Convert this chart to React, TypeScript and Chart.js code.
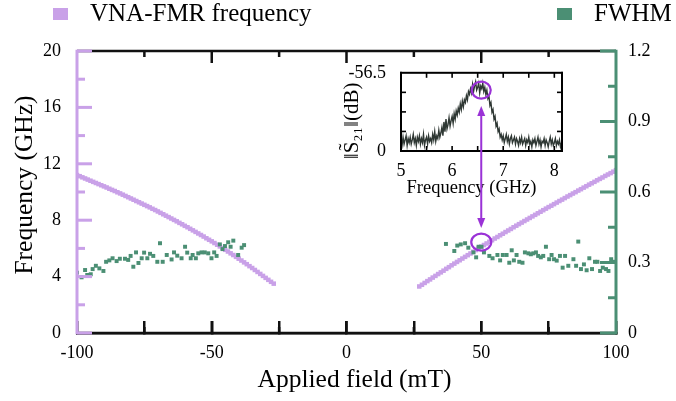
import React, { useEffect, useRef } from "react";
import { Chart, registerables } from "chart.js";

Chart.register(...registerables);

const FONT = "'Liberation Serif', 'DejaVu Serif', 'Times New Roman', serif";
const PURPLE = "#c9a1e8";
const GREEN = "#4b8f74";
const MARK = "#9a32d6";
const TRACE = "#2f3834";
const BLACK = "#111111";

// ---- main chart data ----
const fieldStep = 1; // mT
const freqNegStart = -100;
const freqNegGHz = [
  11.2, 11.12, 11.04, 10.96, 10.88, 10.8, 10.72, 10.64, 10.56, 10.48,
  10.4, 10.32, 10.23, 10.15, 10.07, 9.98, 9.9, 9.81, 9.72, 9.63,
  9.54, 9.45, 9.36, 9.27, 9.18, 9.09, 9.0, 8.91, 8.81, 8.72,
  8.62, 8.52, 8.42, 8.32, 8.22, 8.12, 8.02, 7.92, 7.81, 7.71,
  7.6, 7.5, 7.39, 7.28, 7.17, 7.06, 6.95, 6.84, 6.72, 6.61,
  6.5, 6.38, 6.26, 6.14, 6.02, 5.9, 5.78, 5.65, 5.53, 5.4,
  5.27, 5.14, 5.01, 4.88, 4.74, 4.61, 4.47, 4.33, 4.19, 4.05,
  3.91, 3.77, 3.63, 3.5,
];
const freqPosStart = 27;
const freqPosGHz = [
  3.3, 3.42, 3.55, 3.68, 3.8, 3.93, 4.05, 4.18, 4.3, 4.42,
  4.55, 4.67, 4.8, 4.92, 5.04, 5.16, 5.28, 5.4, 5.52, 5.64,
  5.76, 5.88, 6.0, 6.12, 6.24, 6.35, 6.47, 6.58, 6.7, 6.81,
  6.93, 7.04, 7.16, 7.27, 7.38, 7.5, 7.61, 7.72, 7.83, 7.94,
  8.05, 8.16, 8.27, 8.38, 8.49, 8.6, 8.71, 8.82, 8.93, 9.03,
  9.14, 9.25, 9.36, 9.46, 9.57, 9.68, 9.78, 9.89, 9.99, 10.1,
  10.2, 10.31, 10.41, 10.52, 10.62, 10.72, 10.83, 10.93, 11.03, 11.14,
  11.24, 11.34, 11.44, 11.55,
];

const fwhmNegField = [
  -100, -98.3, -97, -96.2, -94.9, -94.2, -93, -91.7, -90.2, -89.2,
  -88, -86.8, -85.3, -84.1, -82.2, -81, -80.1, -79.1, -78.1, -77.2,
  -76, -75.1, -73.9, -72.9, -71.7, -70.2, -69.2, -68.2, -66.7, -64.9,
  -64, -62.8, -61.2, -59.9, -59.1, -57.8, -57.1, -55.9, -55, -53.8,
  -52.6, -51.3, -50.1, -49.1, -48.2, -47, -46, -45.1, -43.9, -43,
  -42, -40.2, -38.9, -38,
];
const fwhmNegVal = [
  0.257, 0.237, 0.268, 0.247, 0.25, 0.272, 0.286, 0.275, 0.264, 0.303,
  0.309, 0.318, 0.306, 0.316, 0.316, 0.311, 0.328, 0.282, 0.343, 0.298,
  0.318, 0.342, 0.318, 0.337, 0.328, 0.303, 0.382, 0.303, 0.332, 0.313,
  0.343, 0.329, 0.318, 0.367, 0.342, 0.318, 0.332, 0.318, 0.339, 0.343,
  0.343, 0.339, 0.318, 0.343, 0.328, 0.377, 0.357, 0.37, 0.386, 0.367,
  0.393, 0.332, 0.363, 0.374,
];
const fwhmPosField = [
  36.9, 40, 41.1, 42.4, 44, 45.2, 47.1, 48.1, 49, 50.1,
  51, 53, 54.2, 56, 57, 58, 59.4, 60.4, 61.3, 62.1,
  63.1, 64.1, 65.3, 66.2, 67.5, 68.4, 69.3, 70.3, 71.1, 72.1,
  73, 74, 75.2, 76.1, 77, 78, 79.2, 80.2, 81.1, 82.3,
  84.2, 85.2, 86, 87, 88.1, 89.1, 90.1, 91.1, 92.2, 93.1,
  94.1, 95.1, 96.3, 97.2, 98.2, 99.3,
];
const fwhmPosVal = [
  0.379, 0.349, 0.372, 0.377, 0.382, 0.363, 0.343, 0.322, 0.367, 0.367,
  0.343, 0.328, 0.318, 0.332, 0.309, 0.332, 0.332, 0.299, 0.352, 0.309,
  0.332, 0.303, 0.299, 0.343, 0.339, 0.335, 0.339, 0.343, 0.328, 0.322,
  0.328, 0.367, 0.314, 0.332, 0.314, 0.308, 0.328, 0.278, 0.328, 0.286,
  0.314, 0.286, 0.389, 0.272, 0.292, 0.267, 0.318, 0.272, 0.303, 0.303,
  0.264, 0.278, 0.272, 0.264, 0.314, 0.303,
];

// x ticks every 25 mT; labels only on the 50 mT majors
const xTicks = [-100, -75, -50, -25, 0, 25, 50, 75, 100];
const xTickLabels = ["-100", "", "-50", "", "0", "", "50", "", "100"];
const xMajorStep = 50;
const yTicks = [0, 4, 8, 12, 16, 20];
const yTickLabels = ["0", "4", "8", "12", "16", "20"];
const y1Ticks = [0, 0.3, 0.6, 0.9, 1.2];
const y1TickLabels = ["0", "0.3", "0.6", "0.9", "1.2"];

// annotation (circle + arrow) positions, data units
const markField = 50;
const markFreq = 6.45;
const arrowBottomFreq = 7.45;

// ---- inset data ----
const insetStart = 5.0;
const insetStep = 0.02; // GHz
const insetMag = [
  7, 4, 10, 5, 8, 11, 4, 9, 6, 10,
  5, 8, 12, 6, 9, 4, 10, 7, 11, 5,
  9, 6, 12, 4, 8, 10, 5, 11, 7, 9,
  6, 12, 8, 14, 7, 11, 9, 15, 10, 13,
  17, 11, 21, 14, 23, 16, 19, 24, 18, 22,
  25, 20, 27, 23, 29, 26, 31, 28, 34, 30,
  36, 32, 37, 35, 40, 37, 43, 41, 45, 42,
  48, 43, 47, 50, 44, 46, 49, 42, 47, 45,
  49, 43, 46, 41, 44, 38, 40, 33, 35, 28,
  30, 23, 25, 18, 20, 14, 16, 10, 12, 8,
  11, 6, 9, 12, 7, 10, 5, 9, 11, 6,
  8, 10, 5, 9, 7, 4, 9, 6, 10, 5,
  7, 9, 4, 8, 6, 10, 5, 7, 3, 8,
  6, 9, 4, 7, 10, 5, 8, 3, 7, 6,
  9, 4, 8, 6, 3, 7, 10, 5, 8, 4,
  6, 9, 4, 7, 5, 8, 3, 6,
];
const insetXTicks = [5, 6, 7, 8];
const insetXTickLabels = ["5", "6", "7", "8"];
const insetXMarks = [5, 5.5, 6, 6.5, 7, 7.5, 8];
const insetYTicks = [0, 56.5];
const insetYTickLabels = ["0", "-56.5"];
const insetYMarks = [14.125, 28.25, 42.375];
const insetMarkFreq = 6.57;
const insetMarkMag = 44;
const insetArrowTopMag = 32.5;

const W = 676;
const H = 401;
const PLOT_TOP = 51;
const X_AXIS_H = 68;
const INSET_LEFT = 330;
const INSET_TOP = 55;
const INSET_W = 250;
const INSET_H = 190;

function vline(ctx: CanvasRenderingContext2D, x: number, y1: number, y2: number, w: number) {
  ctx.fillRect(x - w / 2, Math.min(y1, y2), w, Math.abs(y2 - y1));
}
function hline(ctx: CanvasRenderingContext2D, y: number, x1: number, x2: number, w: number) {
  ctx.fillRect(Math.min(x1, x2), y - w / 2, Math.abs(x2 - x1), w);
}

export default function App() {
  const mainRef = useRef<HTMLCanvasElement>(null);
  const insetRef = useRef<HTMLCanvasElement>(null);

  useEffect(() => {
    const purplePts = freqNegGHz
      .map((v, i) => ({ x: freqNegStart + i * fieldStep, y: v }))
      .concat(freqPosGHz.map((v, i) => ({ x: freqPosStart + i * fieldStep, y: v })));
    const greenPts = fwhmNegField
      .map((f, i) => ({ x: f, y: fwhmNegVal[i] }))
      .concat(fwhmPosField.map((f, i) => ({ x: f, y: fwhmPosVal[i] })));

    // frame lines and inward x ticks as line segments in data space of the y axis
    const yMin = yTicks[0];
    const yMax = yTicks[yTicks.length - 1];
    const plotH = H - X_AXIS_H - PLOT_TOP;
    const perPx = (yMax - yMin) / plotH;
    const seg = (pts: { x: number; y: number }[], w: number) => ({
      type: "line",
      data: pts,
      yAxisID: "y",
      showLine: true,
      pointRadius: 0,
      borderColor: BLACK,
      backgroundColor: BLACK,
      borderWidth: w,
      borderCapStyle: "butt",
      fill: false,
      clip: false,
      order: 9,
    });
    const frameSets: any[] = [
      seg([{ x: xTicks[0], y: yMax }, { x: xTicks[xTicks.length - 1], y: yMax }], 2.5),
      seg([{ x: xTicks[0], y: yMin }, { x: xTicks[xTicks.length - 1], y: yMin }], 2.5),
    ];
    xTicks.slice(1, -1).forEach((v) => {
      const len = (v % xMajorStep === 0 ? 12 : 6) * perPx;
      frameSets.push(seg([{ x: v, y: yMin }, { x: v, y: yMin + len }], 2.5));
      frameSets.push(seg([{ x: v, y: yMax }, { x: v, y: yMax - len }], 2.5));
    });

    const mainDecor = {
      id: "mainDecor",
      afterDraw(chart: any) {
        const { ctx, chartArea: a, scales } = chart;
        const sx = scales.x, sy = scales.y, sy1 = scales.y1;
        ctx.save();
        // coloured y axes
        ctx.fillStyle = PURPLE;
        vline(ctx, a.left, a.top - 1.25, a.bottom + 1.25, 3);
        yTicks.forEach((v, i) => {
          const py = sy.getPixelForValue(v);
          hline(ctx, py, a.left, a.left + 15, 3);
          if (i < yTicks.length - 1) {
            const pm = sy.getPixelForValue((v + yTicks[i + 1]) / 2);
            hline(ctx, pm, a.left, a.left + 8, 3);
          }
        });
        ctx.fillStyle = GREEN;
        vline(ctx, a.right, a.top - 1.25, a.bottom + 1.25, 3);
        y1Ticks.forEach((v, i) => {
          const py = sy1.getPixelForValue(v);
          hline(ctx, py, a.right - 16, a.right, 3);
          if (i < y1Ticks.length - 1) {
            const pm = sy1.getPixelForValue((v + y1Ticks[i + 1]) / 2);
            hline(ctx, pm, a.right - 8, a.right, 3);
          }
        });
        // marker circle
        ctx.strokeStyle = MARK;
        ctx.lineWidth = 2.2;
        ctx.setLineDash([]);
        ctx.beginPath();
        ctx.ellipse(sx.getPixelForValue(markField), sy.getPixelForValue(markFreq), 10, 8.5, 0, 0, Math.PI * 2);
        ctx.stroke();
        // axis titles
        ctx.fillStyle = "#000";
        ctx.font = `25.5px ${FONT}`;
        ctx.textAlign = "center";
        ctx.textBaseline = "middle";
        ctx.fillText("Applied field (mT)", (a.left + a.right) / 2 + 8, 380);
        ctx.save();
        ctx.translate(25, (a.top + a.bottom) / 2 - 7);
        ctx.rotate(-Math.PI / 2);
        ctx.fillText("Frequency (GHz)", 0, 0);
        ctx.restore();
        // legend
        ctx.textAlign = "left";
        ctx.textBaseline = "alphabetic";
        ctx.font = `25px ${FONT}`;
        ctx.fillStyle = PURPLE;
        ctx.fillRect(53, 8, 15, 12);
        ctx.fillStyle = "#000";
        ctx.fillText("VNA-FMR frequency", 90, 21);
        ctx.fillStyle = GREEN;
        ctx.fillRect(557, 8, 15, 12);
        ctx.fillStyle = "#000";
        ctx.fillText("FWHM", 594, 21);
        ctx.restore();
      },
    };

    const main = new Chart(mainRef.current as HTMLCanvasElement, {
      type: "scatter",
      data: {
        datasets: [
          {
            label: "FWHM",
            data: greenPts,
            yAxisID: "y1",
            order: 0,
            pointStyle: "rect",
            pointRadius: 2.8,
            pointBorderWidth: 0,
            backgroundColor: GREEN,
            borderColor: GREEN,
          },
          {
            label: "VNA-FMR frequency",
            data: purplePts,
            yAxisID: "y",
            order: 1,
            pointStyle: "rect",
            pointRadius: 3.2,
            pointBorderWidth: 0,
            backgroundColor: PURPLE,
            borderColor: PURPLE,
          },
          ...frameSets,
        ],
      },
      options: {
        animation: false,
        responsive: false,
        devicePixelRatio: 1,
        events: [],
        layout: { padding: { top: PLOT_TOP, left: 0, right: 0, bottom: 0 } },
        plugins: { legend: { display: false }, tooltip: { enabled: false } },
        scales: {
          x: {
            type: "linear",
            position: "bottom",
            min: -100,
            max: 100,
            grid: {
              display: true,
              drawOnChartArea: false,
              drawTicks: true,
              tickLength: -12,
              color: BLACK,
              lineWidth: 2.5,
              tickWidth: 2.5,
              tickColor: BLACK,
            },
            border: { display: true, color: BLACK, width: 2.5 },
            afterBuildTicks: (s: any) => { s.ticks = xTicks.map((v) => ({ value: v })); },
            afterFit: (s: any) => { s.height = X_AXIS_H; },
            ticks: {
              font: { family: FONT, size: 18 },
              color: "#000",
              padding: 21,
              maxRotation: 0,
              autoSkip: false,
              callback: (_v: any, i: number) => xTickLabels[i],
            },
          },
          y: {
            type: "linear",
            position: "left",
            min: yMin,
            max: yMax,
            grid: { display: false },
            border: { display: false },
            afterBuildTicks: (s: any) => { s.ticks = yTicks.map((v) => ({ value: v })); },
            afterFit: (s: any) => { s.width = 77; },
            ticks: {
              font: { family: FONT, size: 18 },
              color: "#000",
              padding: 8,
              autoSkip: false,
              callback: (_v: any, i: number) => yTickLabels[i],
            },
          },
          y1: {
            type: "linear",
            position: "right",
            min: 0,
            max: 1.2,
            grid: { display: false },
            border: { display: false },
            afterBuildTicks: (s: any) => { s.ticks = y1Ticks.map((v) => ({ value: v })); },
            afterFit: (s: any) => { s.width = 60; },
            ticks: {
              font: { family: FONT, size: 18 },
              color: "#000",
              padding: 4,
              autoSkip: false,
              callback: (_v: any, i: number) => y1TickLabels[i],
            },
          },
        },
      },
      plugins: [mainDecor],
    } as any);

    const insetPts = insetMag.map((v, i) => ({ x: insetStart + i * insetStep, y: v }));

    const insetDecor = {
      id: "insetDecor",
      afterDraw(chart: any) {
        const { ctx, chartArea: a, scales } = chart;
        const isx = scales.x, isy = scales.y;
        ctx.save();
        ctx.fillStyle = "#000";
        hline(ctx, a.top, a.left - 1, a.right + 1, 2);
        hline(ctx, a.bottom, a.left - 1, a.right + 1, 2);
        vline(ctx, a.left, a.top - 1, a.bottom + 1, 2);
        vline(ctx, a.right, a.top - 1, a.bottom + 1, 2);
        insetXMarks.forEach((v) => {
          const px = isx.getPixelForValue(v);
          vline(ctx, px, a.bottom, a.bottom - 5, 1.6);
          vline(ctx, px, a.top, a.top + 5, 1.6);
        });
        insetYMarks.forEach((v) => {
          const py = isy.getPixelForValue(v);
          hline(ctx, py, a.left, a.left + 5, 1.6);
          hline(ctx, py, a.right - 5, a.right, 1.6);
        });
        // titles
        ctx.textAlign = "center";
        ctx.textBaseline = "middle";
        ctx.font = `18.5px ${FONT}`;
        ctx.fillText("Frequency (GHz)", (a.left + a.right) / 2 - 10, 133);
        ctx.save();
        ctx.translate(22, (a.top + a.bottom) / 2 + 9);
        ctx.rotate(-Math.PI / 2);
        ctx.font = `21px ${FONT}`;
        ctx.fillText("\u2016S\u0303\u2082\u2081\u2016(dB)", 0, 0);
        ctx.restore();
        // circle at peak
        const cx = isx.getPixelForValue(insetMarkFreq);
        ctx.strokeStyle = MARK;
        ctx.fillStyle = MARK;
        ctx.setLineDash([]);
        ctx.lineWidth = 2.2;
        ctx.beginPath();
        ctx.ellipse(cx, isy.getPixelForValue(insetMarkMag), 9.5, 8.5, 0, 0, Math.PI * 2);
        ctx.stroke();
        // double arrow from inset peak down to main marker
        const topTip = isy.getPixelForValue(insetArrowTopMag);
        const botTip = main.scales.y.getPixelForValue(arrowBottomFreq) - INSET_TOP;
        vline(ctx, cx, topTip + 6, botTip - 6, 2);
        ctx.beginPath();
        ctx.moveTo(cx, topTip);
        ctx.lineTo(cx - 4, topTip + 10);
        ctx.lineTo(cx + 4, topTip + 10);
        ctx.closePath();
        ctx.fill();
        ctx.beginPath();
        ctx.moveTo(cx, botTip);
        ctx.lineTo(cx - 4, botTip - 10);
        ctx.lineTo(cx + 4, botTip - 10);
        ctx.closePath();
        ctx.fill();
        ctx.restore();
      },
    };

    const inset = new Chart(insetRef.current as HTMLCanvasElement, {
      type: "scatter",
      data: {
        datasets: [
          {
            label: "|S21|",
            data: insetPts,
            showLine: true,
            pointRadius: 0,
            borderColor: TRACE,
            borderWidth: 1.4,
            tension: 0,
          },
        ],
      },
      options: {
        animation: false,
        responsive: false,
        devicePixelRatio: 1,
        events: [],
        layout: { padding: { top: 16, right: 18, bottom: 40, left: 0 } },
        plugins: { legend: { display: false }, tooltip: { enabled: false } },
        scales: {
          x: {
            type: "linear",
            min: 5,
            max: 8.15,
            grid: { display: false },
            border: { display: false },
            afterBuildTicks: (s: any) => { s.ticks = insetXTicks.map((v) => ({ value: v })); },
            afterFit: (s: any) => { s.height = 54; },
            ticks: {
              font: { family: FONT, size: 18 },
              color: "#000",
              padding: 1,
              maxRotation: 0,
              autoSkip: false,
              callback: (_v: any, i: number) => insetXTickLabels[i],
            },
          },
          y: {
            type: "linear",
            min: 0,
            max: 56.5,
            grid: { display: false },
            border: { display: false },
            afterBuildTicks: (s: any) => { s.ticks = insetYTicks.map((v) => ({ value: v })); },
            afterFit: (s: any) => { s.width = 71; },
            ticks: {
              font: { family: FONT, size: 18 },
              color: "#000",
              padding: 7,
              autoSkip: false,
              callback: (_v: any, i: number) => insetYTickLabels[i],
            },
          },
        },
      },
      plugins: [insetDecor],
    } as any);

    return () => {
      inset.destroy();
      main.destroy();
    };
  }, []);

  return (
    <div style={{ position: "fixed", left: 0, top: 0, width: W, height: H, background: "#fff" }}>
      <canvas
        ref={mainRef}
        width={W}
        height={H}
        style={{ position: "absolute", left: 0, top: 0, width: W, height: H }}
      />
      <canvas
        ref={insetRef}
        width={INSET_W}
        height={INSET_H}
        style={{ position: "absolute", left: INSET_LEFT, top: INSET_TOP, width: INSET_W, height: INSET_H }}
      />
    </div>
  );
}
